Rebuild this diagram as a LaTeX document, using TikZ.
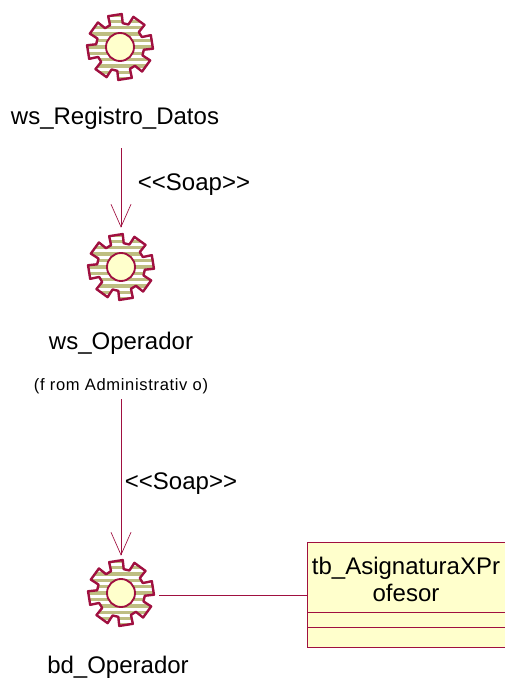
\documentclass[tikz,border=0pt]{standalone}
\usepackage{fontspec}
\setmainfont{Liberation Sans}
\usetikzlibrary{arrows.meta}
\definecolor{umlred}{HTML}{A01040}
\definecolor{umlfill}{HTML}{FFFFCC}
\definecolor{umlstripe}{HTML}{BEBE82}
\newcommand{\geartooth}[1]{%
  -- ({#1-15.5}:24) -- ({#1-12}:33) -- ({#1+12}:33) -- ({#1+15.5}:24)}
\newcommand{\gearshape}{%
  ({54-15.5}:24)
  \geartooth{54}\geartooth{99}\geartooth{144}\geartooth{189}\geartooth{234}\geartooth{279}\geartooth{324}\geartooth{369} -- cycle}
\tikzset{
  x=0.75pt,y=-0.75pt,
  gearnode/.style={circle,minimum size=49.5pt,inner sep=0pt},
  lbl/.style={font=\fontsize{18pt}{20.5pt}\selectfont,inner sep=0pt,text=black},
  smalllbl/.style={font=\fontsize{12.4pt}{15pt}\selectfont\addfontfeatures{LetterSpace=4},inner sep=0pt,text=black},
  conn/.style={draw=umlred,line width=0.5pt},
  openarrow/.style={conn,-{Straight Barb[length=17pt,width=15pt,line width=0.5pt]}},
  gear/.pic={
    \begin{scope}[y=0.75pt,x=0.75pt]
    \begin{scope}
      \clip \gearshape;
      \fill[white] (-40,-40) rectangle (40,40);
      \foreach \k in {-6,...,6} \fill[umlstripe] (-40,{\k*6.4-1.7}) rectangle (40,{\k*6.4+1.7});
    \end{scope}
    \draw[umlred,line width=1.8pt,line join=round] \gearshape;
    \draw[umlred,fill=umlfill,line width=1.4pt] (0,0) circle[radius=14];
    \end{scope}
  },
}
\begin{document}
\begin{tikzpicture}
\useasboundingbox (0,0) rectangle (505,680);
\node[gearnode] (g1) at (120,47) {};
\node[gearnode] (g2) at (121,267) {};
\node[gearnode] (g3) at (121,593) {};
\pic at (g1) {gear};
\pic at (g2) {gear};
\pic at (g3) {gear};
\node[lbl] (l1) at (115,118) {ws\_Registro\_Datos};
\node[lbl] (l2) at (121,343) {ws\_Operador};
\node[smalllbl] (f2) at (121,386) {(f rom Administrativ o)};
\node[lbl] (l3) at (118,667) {bd\_Operador};
\node[lbl] (s1) at (194,185) {<{}<Soap>{}>};
\node[lbl] (s2) at (181,484) {<{}<Soap>{}>};
\node[draw=umlred,fill=umlfill,line width=0.6pt,minimum width=148.5pt,minimum height=78.75pt,inner sep=0pt] (c) at (406.5,594.5) {};
\node[lbl,align=center,anchor=north] (ct) at (406,557) {tb\_AsignaturaXPr\\ofesor};
\draw[conn] (c.west |- 0,612) -- (c.east |- 0,612);
\draw[conn] (c.west |- 0,627) -- (c.east |- 0,627);
\draw[openarrow,shorten <=14pt] (l1.south -| g2.north) -- ([yshift=4.5pt]g2.north);
\draw[openarrow,shorten <=4pt] (f2.south -| g3.north) -- ([yshift=3pt]g3.north);
\draw[conn] (g3.east) ++(5,2) coordinate (e3) (e3) -- (e3 -| c.west);
\end{tikzpicture}
\end{document}
